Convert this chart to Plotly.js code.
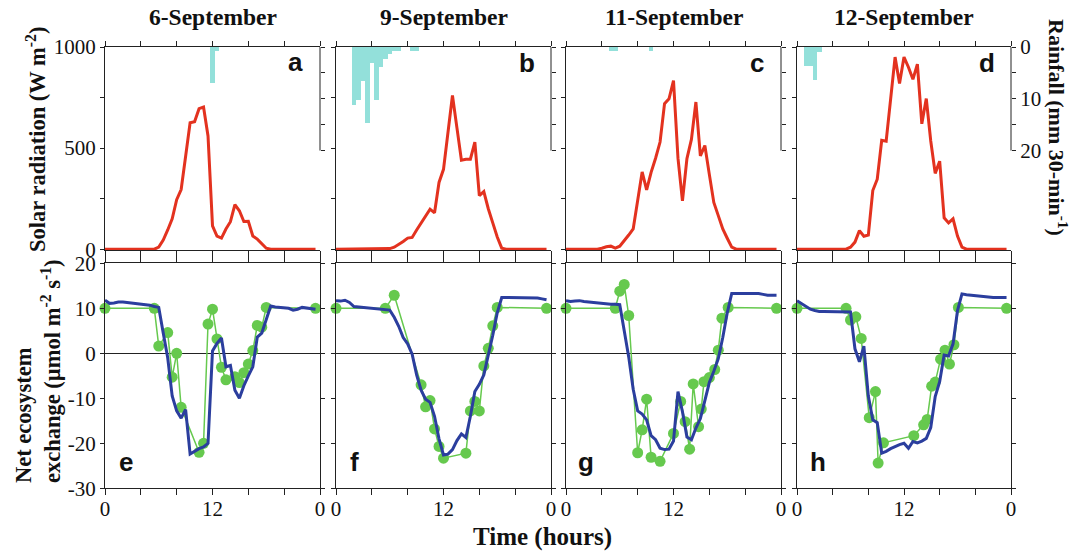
<!DOCTYPE html>
<html>
<head>
<meta charset="utf-8">
<script src="https://cdn.plot.ly/plotly-3.0.1.min.js"></script>
<style>html,body{margin:0;padding:0;background:#fff;}#chart{width:1075px;height:552px;}</style>
</head>
<body>
<div id="chart"></div>
<script>
// ---------------- DATA ----------------
const dayTitles = ['6-September', '9-September', '11-September', '12-September'];
const topLetters = ['a', 'b', 'c', 'd'];
const bottomLetters = ['e', 'f', 'g', 'h'];

const hours = [0,0.5,1,1.5,2,2.5,3,3.5,4,4.5,5,5.5,6,6.5,7,7.5,8,8.5,9,9.5,10,10.5,11,11.5,
               12,12.5,13,13.5,14,14.5,15,15.5,16,16.5,17,17.5,18,18.5,19,19.5,20,20.5,21,21.5,22,22.5,23,23.5];

const xTickVals = [0, 4, 8, 12, 16, 20, 24];
const xTickText = ['0', '', '', '12', '', '', '0'];
const solarTickVals = [0, 250, 500, 750, 1000];
const solarTickText = ['0', '', '500', '', '1000'];
const rainTickVals = [0, 5, 10, 15, 20];
const rainTickText = ['0', '', '10', '', '20'];
const neeTickVals = [-30, -20, -10, 0, 10, 20];
const neeTickText = ['-30', '-20', '-10', '0', '10', '20'];

// Solar radiation (W m-2), half-hourly
const solarA = [0,0,0,0,0,0,0,0,0,0,0,0, 10,45,95,150,245,295,460,625,630,695,703,560,
                115,65,55,100,136,220,190,137,138,65,50,25,5,0,0,0,0,0,0,0,0,0,0,0];
const solarB = [0,0,0,0,0,0,0,0,0,0,0,0, 3,10,22,38,55,58,95,130,165,198,180,330,
                395,580,760,600,440,445,445,530,265,285,200,130,60,5,0,0,0,0,0,0,0,0,0,0];
const solarC = [0,0,0,0,0,0,0,0,5,12,15,5, 15,40,70,100,250,382,293,380,450,530,720,744,
                834,450,239,448,543,728,461,513,370,231,166,100,54,10,0,0,0,0,0,0,0,0,0,0];
const solarD = [0,0,0,0,0,0,0,0,0,0,0,0, 10,35,92,64,70,290,346,539,534,740,950,820,
                950,900,840,915,620,745,535,375,435,155,130,150,65,10,0,0,0,0,0,0,0,0,0,0];

// Rainfall (mm per 30 min), bar centre times
const rainTimeA = [12.0, 12.5];
const rainA = [6.9, 0.8];
const rainTimeB = [2.0, 2.5, 3.0, 3.5, 4.0, 4.5, 5.0, 5.5, 6.0, 6.5, 7.0, 8.5, 9.0];
const rainB = [11.2, 10.2, 6.5, 14.7, 3.0, 10.2, 3.9, 2.3, 1.3, 0.8, 0.8, 0.8, 0.8];
const rainTimeC = [5.0, 5.5, 9.5];
const rainC = [0.7, 0.7, 0.7];
const rainTimeD = [1.0, 1.5, 2.0, 2.5];
const rainD = [3.7, 3.7, 6.3, 1.0];

// Measured NEE (green points)
const obsTimeE = [0,5.5,6,7,7.5,8,8.5,10.5,11,11.5,12,12.5,13,13.5,14.5,15,15.5,16,16.5,17,17.5,18,23.5];
const obsE = [10,10,1.6,4.6,-5.3,0,-12,-22,-20,6.5,9.8,3.2,-3.1,-5.9,-5.2,-6.5,-4.3,-2.4,0.6,6.2,5.8,10.2,10];
const obsTimeF = [0,5.5,6.5,9.5,10,10.5,11,11.5,12,14.5,15,15.5,16,16.5,17,17.5,18,23.5];
const obsF = [10,10,12.9,-7,-11.9,-10.5,-16.8,-20.7,-23.3,-22.2,-12.8,-10.7,-12.8,-2.8,1.1,6.1,10.2,10];
const obsTimeG = [0,5.5,6,6.5,7,8,8.5,9,9.5,10.5,12,12.8,13.3,13.8,14.2,14.8,15.1,15.4,16,16.6,17,17.4,18.1,23.5];
const obsG = [10,10,13.8,15.3,8.4,-22.1,-17,-10.2,-23.1,-24,-17.8,-10.7,-15.2,-21.3,-6.8,-16.3,-12.4,-6.3,-5.4,-3.6,0.7,7.8,10.2,10];
const obsTimeH = [0,5.5,6,6.6,7.2,8.1,8.8,9.1,9.7,13.1,14.2,14.6,15.1,15.5,16.1,16.6,17.1,17.6,18.1,23.5];
const obsH = [10,10,7.4,8.1,3.3,-14.3,-8.5,-24.4,-19.9,-18.3,-15.9,-14.7,-7.3,-6.4,-1.3,0.7,-2.4,1.9,10.2,10];

// Modelled NEE (blue line), half-hourly
const modE = [11.8,11.1,11.2,11.4,11.4,11.3,11.2,11.0,10.9,10.8,10.7,10.4, 10.2,4.5,-1,-9.5,-12.8,-14.4,-12.5,-22.4,-21.8,-21.2,-20.8,-20,
              0.5,2.2,3.4,-3.0,-2.7,-8.2,-10,-7.2,-5,-3.0,3.6,4.5,7.5,10.5,10.3,10.2,10.1,10.0,9.6,9.8,10.2,10.1,10,9.8];
const modF = [11.7,11.6,11.8,11.3,10.4,10.3,10.2,10.1,10.0,9.9,9.9,9.8, 9.6,8.0,6.0,3.5,2.1,-0.2,-4.8,-8.2,-10.2,-10.9,-14,-19,
              -22.6,-22.4,-21.4,-19.4,-17.9,-18.7,-14,-8.5,-6.9,-4.8,-0.5,4.0,9.0,12.4,12.4,12.4,12.4,12.4,12.4,12.4,12.4,12.3,12.1,11.9];
const modG = [11.7,11.5,11.6,11.7,11.5,11.4,11.3,11.2,11.0,10.9,10.9,10.9, 10.8,5,-0.8,-8,-12.8,-13.5,-14.8,-18.3,-19.2,-21.1,-21.4,-21.3,
              -19.5,-8.5,-13,-18.6,-19.2,-16.6,-14.5,-10.5,-6.5,-4.0,-1.2,3.5,9.0,13.3,13.3,13.3,13.3,13.3,13.3,13.3,13.1,12.9,12.9,12.9];
const modH = [11.7,11.1,10.4,9.8,9.5,9.3,9.3,9.3,9.3,9.3,9.3,9.3, 9.2,1.0,-1.9,1.6,-9.5,-14.8,-15.4,-22.2,-21.8,-21.2,-20.7,-20.3,
              -20.0,-21.1,-19.6,-19.9,-19.5,-18.9,-16.5,-9.6,-6.3,-0.4,-0.6,2.1,9.5,13.2,13.0,12.9,12.8,12.6,12.5,12.5,12.4,12.4,12.4,12.4];

const solarSeries = [solarA, solarB, solarC, solarD];
const rainTimes = [rainTimeA, rainTimeB, rainTimeC, rainTimeD];
const rainSeries = [rainA, rainB, rainC, rainD];
const obsTimes = [obsTimeE, obsTimeF, obsTimeG, obsTimeH];
const obsSeries = [obsE, obsF, obsG, obsH];
const modSeries = [modE, modF, modG, modH];

// ---------------- LAYOUT ----------------
const W = 1075, H = 552;
const fx = p => p / W;
const fy = p => 1 - p / H;
const colsPx = [[105, 320], [336, 551], [566, 781], [797, 1011]];
const topPx = [47, 250];
const botPx = [263.3, 488.3];

const RED = '#e3321f', CYAN = '#93e0da', GREEN = '#66c94e', BLUE = '#2b3e9e';
const LINE = '#222';
const serif = 'Liberation Serif, Times New Roman, serif';
const sans = 'Liberation Sans, Arial, sans-serif';

const traces = [];
const layout = {
  width: W, height: H,
  margin: {l: 0, r: 0, t: 0, b: 0},
  showlegend: false,
  paper_bgcolor: '#ffffff',
  plot_bgcolor: 'rgba(0,0,0,0)',
  font: {family: serif, size: 21, color: '#111'},
  bargap: 0,
  annotations: [],
  shapes: []
};

const baseAxis = {
  showline: true, linecolor: LINE, linewidth: 1,
  ticks: 'outside', tickcolor: LINE, tickwidth: 1,
  showgrid: false, zeroline: false, fixedrange: true,
  tickfont: {family: serif, size: 21, color: '#111'}
};

for (let i = 0; i < 4; i++) {
  const [c0, c1] = colsPx[i];
  const xt = 'x' + (i + 1), yt = 'y' + (i + 1), yr = 'y' + (i + 9);
  const xb = 'x' + (i + 5), yb = 'y' + (i + 5);

  // top panels
  layout['xaxis' + (i + 1)] = Object.assign({}, baseAxis, {
    domain: [fx(c0), fx(c1)], anchor: yt, range: [0, 24],
    tickvals: xTickVals, ticktext: xTickText, showticklabels: false,
    ticklen: 5, mirror: 'ticks', layer: 'below traces'
  });
  layout['yaxis' + (i + 1)] = Object.assign({}, baseAxis, {
    domain: [fy(topPx[1]), fy(topPx[0])], anchor: xt, range: [-4, 1000],
    tickvals: solarTickVals, ticktext: solarTickText, showticklabels: i === 0,
    ticklen: 4, layer: 'below traces'
  });
  layout['yaxis' + (i + 9)] = Object.assign({}, baseAxis, {
    overlaying: yt, anchor: xt, side: 'right', range: [39.2, 0],
    tickvals: rainTickVals, ticktext: rainTickText, showticklabels: i === 3,
    ticklen: 4, showline: false
  });
  layout.shapes.push({
    type: 'line', xref: xt + ' domain', yref: yr,
    x0: 1, x1: 1, y0: 0, y1: 20,
    line: {color: LINE, width: 1}
  });

  // bottom panels
  layout['xaxis' + (i + 5)] = Object.assign({}, baseAxis, {
    domain: [fx(c0), fx(c1)], anchor: yb, range: [0, 24],
    tickvals: xTickVals, ticktext: xTickText, showticklabels: true,
    ticklen: 6, mirror: 'ticks', ticklabelstandoff: -5
  });
  layout['yaxis' + (i + 5)] = Object.assign({}, baseAxis, {
    domain: [fy(botPx[1]), fy(botPx[0])], anchor: xb, range: [-30, 20],
    tickvals: neeTickVals, ticktext: neeTickText, showticklabels: i === 0,
    ticklen: 4, mirror: 'ticks',
    zeroline: true, zerolinecolor: LINE, zerolinewidth: 1
  });

  // traces
  traces.push({
    type: 'bar', x: rainTimes[i], y: rainSeries[i], width: 0.5,
    xaxis: xt, yaxis: yr, marker: {color: CYAN, line: {width: 0}}, hoverinfo: 'skip'
  });
  traces.push({
    type: 'scatter', mode: 'lines', x: hours, y: solarSeries[i],
    xaxis: xt, yaxis: yt, line: {color: RED, width: 3}, hoverinfo: 'skip'
  });
  traces.push({
    type: 'scatter', mode: 'lines+markers', x: obsTimes[i], y: obsSeries[i],
    xaxis: xb, yaxis: yb, cliponaxis: false,
    line: {color: GREEN, width: 1.5}, marker: {color: GREEN, size: 11}, hoverinfo: 'skip'
  });
  traces.push({
    type: 'scatter', mode: 'lines', x: hours, y: modSeries[i],
    xaxis: xb, yaxis: yb, line: {color: BLUE, width: 3}, hoverinfo: 'skip'
  });

  // day titles
  layout.annotations.push({
    xref: 'paper', yref: 'paper', x: fx((c0 + c1) / 2), y: fy(17),
    xanchor: 'center', yanchor: 'middle', showarrow: false,
    text: '<b>' + dayTitles[i] + '</b>', font: {family: serif, size: 23.5, color: '#111'}
  });
}

// panel letters
const topLetterPos = [[295, 62], [527, 63], [757, 63], [987, 63]];
const botLetterPos = [[126, 462], [354, 462], [586, 462], [818, 462]];
for (let i = 0; i < 4; i++) {
  layout.annotations.push({
    xref: 'paper', yref: 'paper', x: fx(topLetterPos[i][0]), y: fy(topLetterPos[i][1]),
    xanchor: 'center', yanchor: 'middle', showarrow: false,
    text: '<b>' + topLetters[i] + '</b>', font: {family: sans, size: 26, color: '#111'}
  });
  layout.annotations.push({
    xref: 'paper', yref: 'paper', x: fx(botLetterPos[i][0]), y: fy(botLetterPos[i][1]),
    xanchor: 'center', yanchor: 'middle', showarrow: false,
    text: '<b>' + bottomLetters[i] + '</b>', font: {family: sans, size: 26, color: '#111'}
  });
}

// axis titles
layout.annotations.push({
  xref: 'paper', yref: 'paper', x: fx(36), y: fy(140), xanchor: 'center', yanchor: 'middle',
  showarrow: false, textangle: -90,
  text: '<b>Solar radiation (W m<sup>-2</sup>)</b>', font: {family: serif, size: 22.5, color: '#111'}
});
layout.annotations.push({
  xref: 'paper', yref: 'paper', x: fx(38), y: fy(485), xanchor: 'center', yanchor: 'bottom',
  showarrow: false, textangle: -90, align: 'left',
  text: '<b>Net ecosystem<br>exchange (µmol m<sup>-2</sup> s<sup>-1</sup>)</b>',
  font: {family: serif, size: 22.5, color: '#111'}
});
layout.annotations.push({
  xref: 'paper', yref: 'paper', x: fx(1058), y: fy(127), xanchor: 'center', yanchor: 'middle',
  showarrow: false, textangle: 90,
  text: '<b>Rainfall (mm 30-min<sup>-1</sup>)</b>', font: {family: serif, size: 22, color: '#111'}
});
layout.annotations.push({
  xref: 'paper', yref: 'paper', x: fx(542), y: fy(537), xanchor: 'center', yanchor: 'middle',
  showarrow: false,
  text: '<b>Time (hours)</b>', font: {family: serif, size: 25, color: '#111'}
});

Plotly.newPlot('chart', traces, layout, {displayModeBar: false, staticPlot: true});
</script>
</body>
</html>
